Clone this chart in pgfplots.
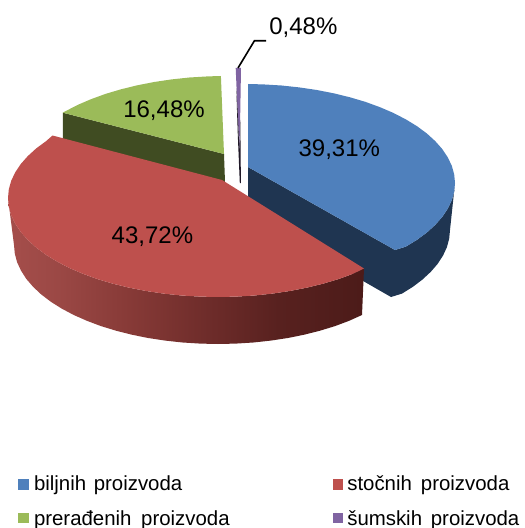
\documentclass[border=0pt]{standalone}
\usepackage{pgfplots}
\pgfplotsset{compat=1.18}
\usepackage{fontspec}
\setmainfont{Liberation Sans}
\definecolor{cblue}{HTML}{4F80BC}
\definecolor{cbluedk}{HTML}{1F3551}
\definecolor{cred}{HTML}{BE504D}
\definecolor{cgreen}{HTML}{9BBB59}
\definecolor{cgreendk}{HTML}{404C22}
\definecolor{cpurple}{HTML}{8064A2}
\definecolor{rsa}{RGB}{165,78,75}
\definecolor{rsb}{RGB}{155,72,69}
\definecolor{rsc}{RGB}{135,58,55}
\definecolor{rsd}{RGB}{108,43,41}
\definecolor{rse}{RGB}{88,33,31}
\definecolor{rsf}{RGB}{76,27,25}
\pgfdeclarehorizontalshading{redside}{50bp}{
  color(0bp)=(rsa);
  color(25bp)=(rsa);
  color(32bp)=(rsb);
  color(42bp)=(rsc);
  color(54bp)=(rsd);
  color(63bp)=(rse);
  color(75bp)=(rsf);
  color(100bp)=(rsf)}
\newcommand{\leg}[1]{\fontsize{20.4bp}{24bp}\selectfont #1}
\newcommand{\pct}[1]{\fontsize{24bp}{28bp}\selectfont #1}
\begin{document}
\begin{tikzpicture}
\useasboundingbox (0,0) rectangle (525bp,528bp);
\clip (0,0) rectangle (525bp,528bp);
\begin{axis}[
  at={(0,0)}, anchor=south west,
  width=525bp, height=528bp, scale only axis,
  xmin=0, xmax=525, ymin=0, ymax=528,
  y dir=reverse, hide axis, clip=false]

% blue side (inner and outer in one outline)
\addplot[fill=cbluedk, draw=none] coordinates {
(248,167)(395,250)(405.9,246.6)(417,239.8)(426.9,232.5)(435.3,224.8)(442.3,216.9)(447.8,208.6)(451.8,200.2)(454.2,191.6)(455,183)
(450,230)(449.2,238.6)(446.9,247.2)(443,255.6)(437.6,263.9)(430.8,271.8)(422.5,279.5)(412.9,286.8)(402,293.6)(391,297)(248,215)};
% blue top
\addplot[fill=cblue, draw=none] coordinates {
(248,167)(248,84)(263.3,84.4)(281.5,85.5)(299.3,87.4)(316.8,90)(333.7,93.3)(350,97.3)(365.5,101.9)(380,107.2)(393.5,113)(405.9,119.4)
(417,126.2)(426.9,133.5)(435.3,141.2)(442.3,149.1)(447.8,157.4)(451.8,165.8)(454.2,174.4)(455,183)
(454.2,191.6)(451.8,200.2)(447.8,208.6)(442.3,216.9)(435.3,224.8)(426.9,232.5)(417,239.8)(405.9,246.6)(395,250)};

% green side
\addplot[fill=cgreendk, draw=none] coordinates {(62.8,112.7)(224,154)(225,182)(222,190)(63,150)};
% green top
\addplot[fill=cgreen, draw=none] coordinates {
(224,154)(220.9,76)(207.7,76.4)(189.5,77.5)(171.6,79.4)(154.2,82)(137.3,85.3)(121,89.3)(105.5,93.9)(91,99.2)(77.5,105)(65.1,111.4)(62.8,112.7)};

% purple
\addplot[fill=cpurple, draw=none] coordinates {(235.7,68)(241,68)(240.3,110)(239.4,152)(237.5,110)};
\addplot[fill=black!75!cpurple, draw=none] coordinates {(236.3,88)(237.6,110)(239.4,152)(240.3,120)(240.9,183)(239.8,183)(237.8,135)};

% red side
\addplot[shade, shading=redside, draw=none] coordinates {
(8,198)(8.8,206.6)(11.2,215.2)(15.2,223.6)(20.7,231.9)(27.7,239.8)(36.1,247.5)(46,254.8)(57.1,261.6)(69.5,268)(83,273.8)(97.5,279.1)(113,283.7)(129.3,287.7)(146.2,291)(163.6,293.6)(181.5,295.5)(199.7,296.6)(218,297)(236.3,296.6)(254.5,295.5)(272.4,293.6)(289.8,291)(306.7,287.7)(323,283.7)(338.5,279.1)(353,273.8)(364,268.5)
(362,315)(349.1,320.8)(335,326.1)(320,330.7)(304.2,334.7)(287.8,338)(270.8,340.6)(253.4,342.5)(235.8,343.6)(218,344)(200.2,343.6)(182.6,342.5)(165.2,340.6)(148.2,338)(131.8,334.7)(116,330.7)(101,326.1)(86.9,320.8)(73.8,315)(61.7,308.6)(50.9,301.8)(41.3,294.5)(33.1,286.8)(26.3,278.9)(21,270.6)(17.1,262.2)(14.8,253.6)(14,245)};
% red top
\addplot[fill=cred, draw=none] coordinates {
(222,180)(52.5,135.5)(46,141.2)(36.1,148.5)(27.7,156.2)(20.7,164.1)(15.2,172.4)(11.2,180.8)(8.8,189.4)(8,198)(8.8,206.6)(11.2,215.2)(15.2,223.6)(20.7,231.9)(27.7,239.8)(36.1,247.5)(46,254.8)(57.1,261.6)(69.5,268)(83,273.8)(97.5,279.1)(113,283.7)(129.3,287.7)(146.2,291)(163.6,293.6)(181.5,295.5)(199.7,296.6)(218,297)(236.3,296.6)(254.5,295.5)(272.4,293.6)(289.8,291)(306.7,287.7)(323,283.7)(338.5,279.1)(353,273.8)(364,268.5)};

% leader
\addplot[black, line width=1.6bp] coordinates {(238,68)(254.4,40.8)(266,40.8)};

% legend squares
\addplot[fill=cblue, draw=none] coordinates {(18.3,479)(29,479)(29,490)(18.3,490)};
\addplot[fill=cred, draw=none] coordinates {(332.7,479)(343.3,479)(343.3,490)(332.7,490)};
\addplot[fill=cgreen, draw=none] coordinates {(18.3,512.7)(29,512.7)(29,523.3)(18.3,523.3)};
\addplot[fill=cpurple, draw=none] coordinates {(332.7,512.7)(343.3,512.7)(343.3,523.3)(332.7,523.3)};

\tikzset{lab/.style={anchor=base west, inner sep=0pt, outer sep=0pt, text=black}}
\node[lab] at (axis cs:269.3,35) {\pct{0,48\%}};
\node[lab] at (axis cs:298.6,156) {\pct{39,31\%}};
\node[lab] at (axis cs:123.3,117.3) {\pct{16,48\%}};
\node[lab] at (axis cs:111.7,243.3) {\pct{43,72\%}};
\node[lab] at (axis cs:34,490.7) {\leg{biljnih\hspace{7.7bp}proizvoda}};
\node[lab] at (axis cs:347.3,490.7) {\leg{stočnih\hspace{9bp}proizvoda}};
\node[lab] at (axis cs:34,525) {\leg{prerađenih\hspace{9.7bp}proizvoda}};
\node[lab] at (axis cs:347.3,525) {\leg{šumskih\hspace{8.8bp}proizvoda}};
\end{axis}
\end{tikzpicture}
\end{document}
